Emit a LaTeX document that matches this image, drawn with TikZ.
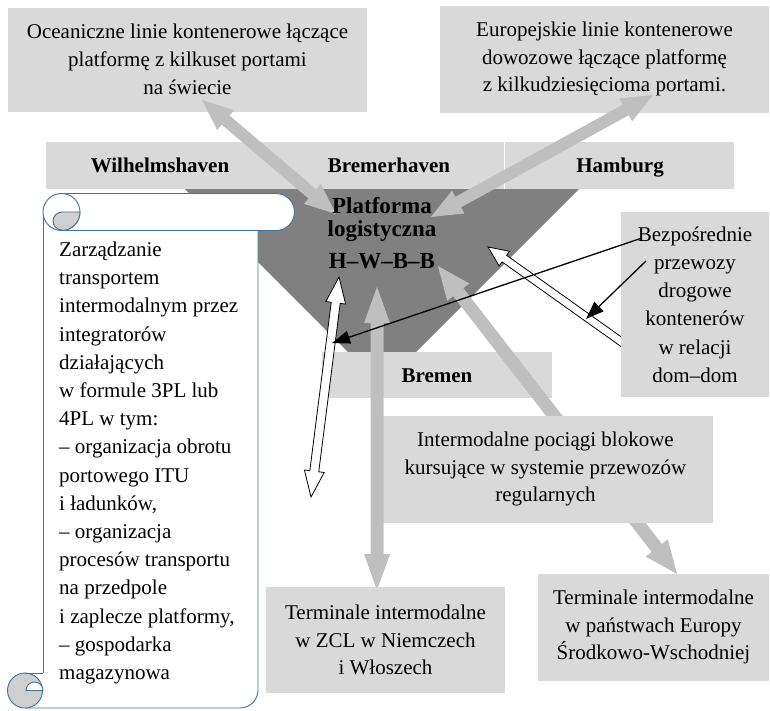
\documentclass[tikz,border=0pt]{standalone}
\usepackage{fontspec}
\setmainfont{Liberation Serif}
\usetikzlibrary{calc,arrows.meta}
\definecolor{boxgray}{HTML}{D9D9D9}
\definecolor{arrgray}{HTML}{BFBFBF}
\definecolor{platgray}{HTML}{808080}
\definecolor{scrollblue}{HTML}{41719C}
\definecolor{curlgray}{HTML}{CFCFCF}
% double-headed filled arrow: style, A, B, head length, half head width, half shaft width
\newcommand\dblarrow[6]{%
  \path[#1] (#2) -- ($(#2)!#4!(#3)!#5!90:(#3)$) -- ($(#2)!#4!(#3)!#6!90:(#3)$)
    -- ($(#3)!#4!(#2)!#6!90:(#3)$) -- ($(#3)!#4!(#2)!#5!90:(#3)$) -- (#3)
    -- ($(#3)!#4!(#2)!#5!-90:(#3)$) -- ($(#3)!#4!(#2)!#6!-90:(#3)$)
    -- ($(#2)!#4!(#3)!#6!-90:(#3)$) -- ($(#2)!#4!(#3)!#5!-90:(#3)$) -- cycle;}
% single-headed arrow: style, tip, tail, head length, half head width, half shaft width
\newcommand\snglarrow[6]{%
  \path[#1] (#2) -- ($(#2)!#4!(#3)!#5!90:(#3)$) -- ($(#2)!#4!(#3)!#6!90:(#3)$)
    -- ($(#3)!#6!-90:(#2)$) -- ($(#3)!#6!90:(#2)$)
    -- ($(#2)!#4!(#3)!#6!-90:(#3)$) -- ($(#2)!#4!(#3)!#5!-90:(#3)$) -- cycle;}
\begin{document}
\begin{tikzpicture}[x=1pt,y=-1pt,
  box/.style={fill=boxgray, inner sep=0pt, align=center, font=\fontsize{21}{27.8}\selectfont},
  lbl/.style={inner sep=0pt, anchor=base, font=\fontsize{21}{25}\selectfont\bfseries},
  plat/.style={inner sep=0pt, anchor=base, font=\fontsize{23}{23}\selectfont\bfseries},
  grayarr/.style={fill=arrgray},
  hollow/.style={fill=white, draw=black, line width=0.8pt, line join=miter},
  blackarr/.style={draw=black, line width=1.3pt, -{Triangle[length=18pt,width=13pt]}},
  scrl/.style={draw=scrollblue, line width=0.9pt}]
\useasboundingbox (0,0) rectangle (770,710);

% top boxes
\node[box, minimum width=359pt, minimum height=104pt] (ocean) at (187.5,59.5)
  {Oceaniczne linie kontenerowe łączące\\platformę z kilkuset portami\\na świecie};
\node[box, minimum width=329pt, minimum height=107pt] (europe) at (604.5,59)
  {Europejskie linie kontenerowe\\dowozowe łączące platformę\\z kilkudziesięcioma portami.};

% platform triangle
\fill[platgray] (185,189) -- (579,189) -- (382,386) -- cycle;

% port bar
\node[box, minimum width=458pt, minimum height=47pt] (wbar) at (275,165.5) {};
\node[box, minimum width=229pt, minimum height=47pt] (hbar) at (619.5,165.5) {};
\node[lbl] (wil) at (160,172) {Wilhelmshaven};
\node[lbl] (brh) at (389,172) {Bremerhaven};
\node[lbl] (ham) at (620,172) {Hamburg};
\node[box, minimum width=230pt, minimum height=46pt] (bremen) at (437,375) {};
\node[lbl] (brm) at (437,382) {Bremen};

% coordinates of connector ends
\coordinate (oT) at (202,100);  \coordinate (oP) at (336,214);
\coordinate (eT) at (653,95);   \coordinate (eP) at (431,217);
\coordinate (vT) at (377,287);  \coordinate (vB) at (377,590);
\coordinate (dT) at (438,266);  \coordinate (dB) at (677,574);
\coordinate (hT) at (488,247);  \coordinate (hB) at (630,348);
\coordinate (wT) at (339,277);  \coordinate (wB) at (311,497);
\coordinate (bz1) at (642,238); \coordinate (b7) at (332,343);
\coordinate (bz2) at (646,261); \coordinate (b8) at (586,319);

\dblarrow{grayarr}{oT}{oP}{31pt}{13pt}{6pt}
\dblarrow{grayarr}{eT}{eP}{31pt}{13pt}{6pt}

\node[plat] (p1) at (382,213) {Platforma};
\node[plat] (p2) at (382,236) {logistyczna};
\node[plat] (p3) at (382,268) {H–W–B–B};

\dblarrow{grayarr}{dT}{dB}{33pt}{14pt}{6.5pt}
\node[box, minimum width=335pt, minimum height=107pt] (interm) at (545.5,469)
  {Intermodalne pociągi blokowe\\kursujące w systemie przewozów\\regularnych};
\dblarrow{grayarr}{vT}{vB}{36pt}{13pt}{6.5pt}

\snglarrow{hollow}{hT}{hB}{20pt}{9pt}{4pt}
\dblarrow{hollow}{wT}{wB}{26pt}{10pt}{4.5pt}

\node[box, minimum width=148pt, minimum height=185pt, font=\fontsize{21}{28.2}\selectfont] (bezp) at (695,304.5)
  {Bezpośrednie\\przewozy\\drogowe\\kontenerów\\w relacji\\dom–dom};

\draw[blackarr] (bz1) -- (b7);
\draw[blackarr] (bz2) -- (b8);

% scroll
\fill[white] (43,212) -- (258,212) -- (258,690) arc[start angle=0,end angle=90,radius=18] -- (25,708) -- (25,673) -- (43,673) -- cycle;
\draw[scrl] (258,230.5) -- (258,690) arc[start angle=0,end angle=90,radius=18] -- (25,708);
\draw[scrl] (43,212) -- (43,673);
\filldraw[scrl, fill=curlgray] (25,690.5) circle[radius=17.5];
\draw[scrl] (25,673) -- (43,673);
\filldraw[scrl, fill=white] (43,690.5) -- (26,690.5) arc[start angle=180,end angle=360,radius=8.5];
\filldraw[scrl, fill=white] (61.5,193.5) -- (276,193.5) arc[start angle=-90,end angle=90,radius=18.5] -- (61.5,230.5) -- cycle;
\filldraw[scrl, fill=white] (61.5,212) circle[radius=18.5];
\filldraw[scrl, fill=curlgray] (80,212) -- (62,212) arc[start angle=-90,end angle=-270,radius=9] -- (61.5,230.5) arc[start angle=90,end angle=0,radius=18.5] -- cycle;
\node[inner sep=0pt, anchor=west, align=left, font=\fontsize{21}{28.2}\selectfont] (scrolltext) at (59,463)
  {Zarządzanie\\transportem\\intermodalnym przez\\integratorów\\działających\\w formule 3PL lub\\4PL w tym:\\– organizacja obrotu\\portowego ITU\\i ładunków,\\– organizacja\\procesów transportu\\na przedpole\\i zaplecze platformy,\\– gospodarka\\magazynowa};

% terminal boxes
\node[box, minimum width=239pt, minimum height=106pt] (tzcl) at (385.5,640)
  {Terminale intermodalne\\w ZCL w Niemczech\\i Włoszech};
\node[box, minimum width=231pt, minimum height=107pt] (teu) at (653.5,627)
  {Terminale intermodalne\\w państwach Europy\\Środkowo-Wschodniej};
\end{tikzpicture}
\end{document}
